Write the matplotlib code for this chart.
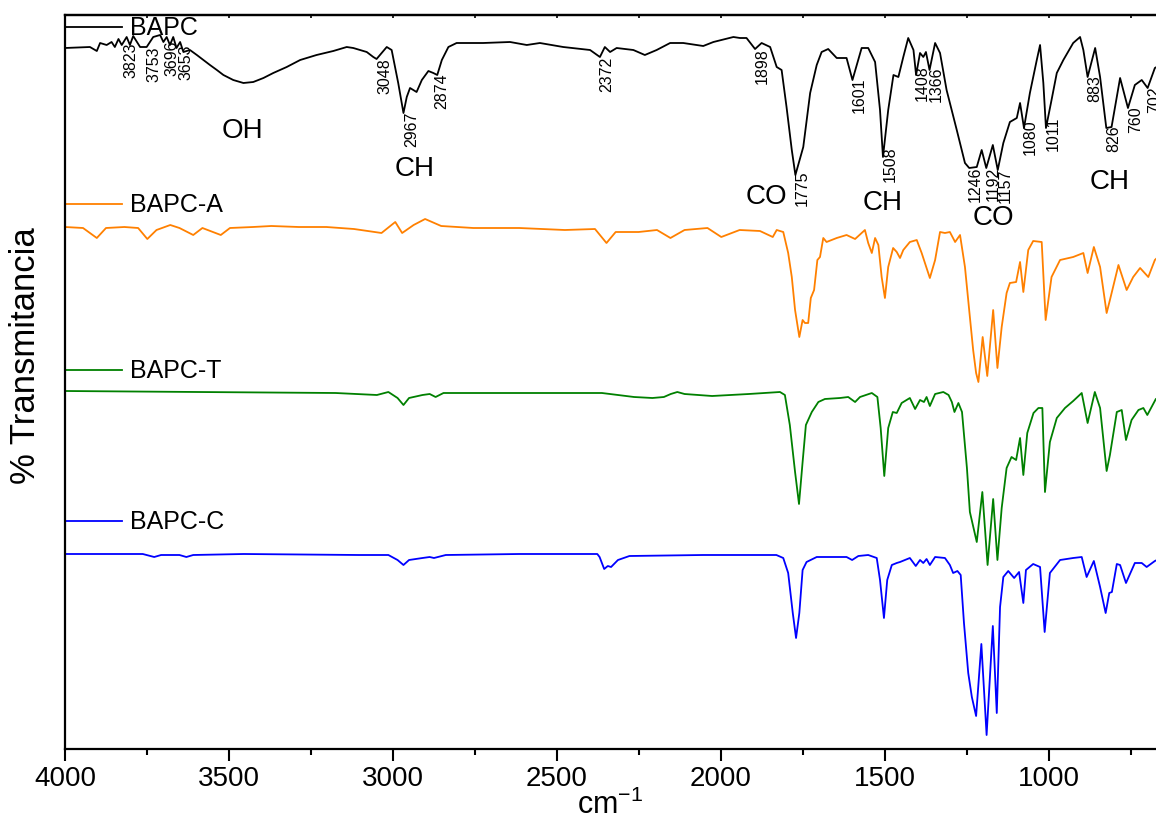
import numpy as np
import matplotlib.pyplot as plt
from matplotlib.ticker import MultipleLocator
from matplotlib.transforms import offset_copy

plt.rcParams['font.family'] = ['Liberation Sans', 'DejaVu Sans']
plt.rcParams['mathtext.default'] = 'regular'

## FTIR spectra, stacked (arbitrary transmittance units)
bapc_wn = [4000, 3924, 3903, 3893, 3873, 3858, 3848, 3837, 3827, 3812, 3802, 3792,
           3771, 3751, 3731, 3710, 3700, 3690, 3680, 3670, 3660, 3649, 3639, 3619,
           3598, 3578, 3558, 3537, 3517, 3487, 3456, 3426, 3395, 3365, 3324, 3283,
           3233, 3182, 3141, 3121, 3080, 3060, 3050, 3019, 3004, 2984, 2968, 2958,
           2948, 2928, 2912, 2892, 2877, 2865, 2851, 2831, 2806, 2725, 2643, 2592,
           2552, 2481, 2399, 2369, 2354, 2338, 2318, 2267, 2232, 2196, 2155, 2115,
           2054, 2023, 1962, 1942, 1922, 1896, 1876, 1850, 1830, 1815, 1800, 1784,
           1773, 1749, 1728, 1708, 1693, 1673, 1647, 1617, 1599, 1571, 1551, 1530,
           1515, 1506, 1490, 1474, 1459, 1444, 1429, 1413, 1405, 1393, 1383, 1375,
           1364, 1347, 1332, 1312, 1281, 1256, 1243, 1220, 1205, 1191, 1171, 1156,
           1139, 1119, 1098, 1088, 1076, 1058, 1037, 1027, 1017, 1009, 992, 976,
           956, 926, 905, 895, 882, 859, 844, 825, 809, 783, 759, 738, 717, 699,
           677, 661]
bapc_t = [700, 701, 697, 705, 703, 706, 701, 709, 703, 711, 703, 712,
          701, 701, 711, 713, 706, 711, 703, 711, 700, 706, 696, 698,
          693, 688, 683, 678, 673, 668, 665, 666, 670, 675, 681, 688,
          693, 697, 701, 700, 696, 691, 689, 701, 698, 665, 635, 651,
          660, 656, 668, 677, 675, 673, 688, 701, 705, 705, 706, 703,
          705, 701, 698, 691, 701, 696, 700, 698, 693, 698, 705, 705,
          702, 706, 711, 710, 710, 699, 705, 701, 681, 678, 641, 598,
          573, 601, 655, 683, 696, 699, 690, 690, 668, 700, 700, 686,
          638, 591, 638, 673, 671, 691, 710, 698, 673, 695, 691, 696,
          678, 705, 695, 658, 618, 585, 580, 581, 598, 580, 603, 578,
          605, 626, 630, 645, 620, 655, 688, 703, 665, 620, 648, 675,
          688, 705, 711, 698, 671, 700, 671, 620, 621, 670, 640, 663, 668, 660,
          680, 683]

bapc_a_wn = [4000, 3945, 3903, 3875, 3819, 3777, 3749, 3721, 3679, 3651, 3609, 3581,
             3525, 3497, 3427, 3371, 3287, 3203, 3119, 3035, 2993, 2972, 2937, 2902,
             2853, 2755, 2615, 2476, 2384, 2349, 2321, 2251, 2195, 2154, 2111, 2041,
             1999, 1943, 1881, 1842, 1830, 1810, 1795, 1784, 1774, 1761, 1751, 1744,
             1734, 1726, 1716, 1706, 1698, 1688, 1678, 1647, 1617, 1591, 1561, 1551,
             1540, 1530, 1520, 1510, 1500, 1490, 1475, 1464, 1454, 1444, 1424, 1403,
             1388, 1363, 1347, 1332, 1317, 1302, 1286, 1271, 1256, 1241, 1231, 1222,
             1215, 1202, 1188, 1170, 1157, 1144, 1129, 1119, 1100, 1088, 1078, 1063,
             1048, 1022, 1010, 992, 966, 926, 895, 882, 863, 844, 824, 814,
             788, 763, 743, 722, 697, 677, 661]
bapc_a_t = [521, 520, 510, 520, 521, 520, 509, 518, 523, 520, 513, 520,
            513, 520, 521, 522, 521, 521, 519, 515, 526, 515, 523, 529,
            522, 520, 520, 518, 519, 505, 516, 516, 518, 510, 518, 520,
            511, 518, 517, 511, 518, 516, 495, 471, 438, 411, 428, 425,
            425, 450, 458, 488, 491, 510, 506, 510, 513, 509, 518, 505,
            495, 510, 503, 471, 450, 481, 500, 496, 490, 498, 506, 508,
            495, 470, 488, 516, 515, 516, 506, 513, 481, 431, 398, 375,
            366, 411, 372, 438, 380, 421, 455, 465, 466, 486, 456, 498,
            507, 506, 428, 471, 488, 491, 495, 475, 501, 481, 435, 448,
            483, 458, 471, 480, 471, 488, 493]

bapc_t_wn = [4000, 3595, 3175, 3049, 3014, 2986, 2968, 2951, 2910, 2888, 2870, 2846,
             2755, 2405, 2363, 2265, 2209, 2174, 2153, 2133, 2111, 2027, 1915, 1820,
             1805, 1790, 1774, 1762, 1751, 1741, 1723, 1703, 1683, 1637, 1612, 1591,
             1576, 1540, 1523, 1513, 1502, 1490, 1476, 1464, 1449, 1424, 1408, 1393,
             1381, 1373, 1363, 1347, 1322, 1306, 1296, 1288, 1276, 1265, 1250, 1241,
             1220, 1203, 1187, 1170, 1157, 1144, 1129, 1114, 1100, 1088, 1078, 1066,
             1047, 1032, 1020, 1012, 997, 976, 951, 926, 900, 882, 860, 844,
             824, 814, 793, 778, 765, 748, 727, 712, 700, 674, 658]
bapc_t_t = [357, 356, 355, 353, 356, 350, 343, 350, 353, 354, 351, 355,
            355, 355, 355, 351, 350, 351, 354, 356, 354, 352, 354, 356,
            353, 323, 276, 244, 286, 323, 336, 346, 349, 350, 351, 346,
            351, 355, 351, 320, 272, 320, 336, 335, 345, 350, 339, 348,
            346, 351, 342, 354, 356, 353, 346, 336, 345, 336, 280, 236,
            206, 256, 183, 249, 188, 240, 280, 291, 288, 310, 273, 315,
            335, 340, 340, 256, 306, 330, 340, 347, 355, 325, 356, 340,
            277, 293, 336, 338, 308, 328, 338, 340, 333, 349, 352]

bapc_c_wn = [4000, 3763, 3728, 3707, 3651, 3630, 3609, 3455, 3105, 3035, 3014, 2986,
             2968, 2951, 2910, 2888, 2875, 2839, 2615, 2377, 2370, 2356, 2345, 2335,
             2314, 2279, 2055, 1915, 1831, 1810, 1795, 1781, 1771, 1761, 1751, 1739,
             1708, 1617, 1600, 1581, 1551, 1525, 1515, 1503, 1493, 1479, 1464, 1454,
             1424, 1406, 1393, 1383, 1373, 1363, 1347, 1317, 1302, 1292, 1279, 1269,
             1259, 1246, 1235, 1222, 1206, 1190, 1171, 1159, 1149, 1139, 1124, 1106,
             1091, 1078, 1070, 1048, 1027, 1013, 997, 966, 926, 900, 885, 863,
             844, 827, 816, 808, 793, 783, 765, 738, 717, 702, 677, 658]
bapc_c_t = [194, 194, 191, 193, 193, 191, 193, 194, 193, 193, 193, 188,
            183, 188, 190, 191, 190, 193, 194, 194, 191, 179, 182, 181,
            188, 192, 193, 193, 193, 190, 175, 135, 110, 135, 178, 186,
            191, 191, 188, 192, 193, 190, 168, 130, 168, 183, 185, 186,
            190, 182, 188, 185, 189, 183, 191, 190, 183, 175, 177, 173,
            125, 75, 51, 32, 104, 13, 122, 35, 141, 171, 177, 170,
            176, 145, 178, 184, 181, 116, 175, 188, 190, 191, 171, 187,
            161, 135, 155, 156, 184, 183, 165, 185, 185, 181, 187, 190]

samples = ['BAPC', 'BAPC-A', 'BAPC-T', 'BAPC-C']
colors = ['black', '#FF8000', '#008000', '#0000FF']

# band positions marked on the BAPC spectrum
peak_wn = [3823, 3753, 3696, 3653, 3048, 2967, 2874, 2372, 1898, 1775, 1601,
           1508, 1408, 1366, 1246, 1192, 1157, 1080, 1011, 883, 826, 760, 702]

# group assignments
groups = ['OH', 'CH', 'CO', 'CH', 'CO', 'CH']


fig = plt.figure(figsize=(11.56, 8.21), dpi=100)
ax = fig.add_axes([65 / 1156, 72 / 821, 1091 / 1156, 734 / 821])

spectra = [(bapc_wn, bapc_t), (bapc_a_wn, bapc_a_t),
           (bapc_t_wn, bapc_t_t), (bapc_c_wn, bapc_c_t)]
for (wn, t), c in zip(spectra, colors):
    ax.plot(wn, t, color=c, lw=1.3, solid_joinstyle='round')

ax.set_xlim(4000, 673.5)
ax.set_ylim(-1, 733)
ax.set_yticks([])
ax.xaxis.set_major_locator(MultipleLocator(500))
ax.xaxis.set_minor_locator(MultipleLocator(250))
ax.tick_params(axis='x', which='major', direction='out', length=8.5, width=1.5,
               labelsize=20, pad=4)
ax.tick_params(axis='x', which='minor', direction='out', length=4.5, width=1.5)
for s in ['left', 'bottom', 'top']:
    ax.spines[s].set_linewidth(1.6)
ax.spines['right'].set_visible(False)

top = ax.secondary_xaxis('top')
top.xaxis.set_major_locator(MultipleLocator(500))
top.xaxis.set_minor_locator(MultipleLocator(250))
top.tick_params(which='both', direction='in', length=2.5, width=1.2, labeltop=False)
top.spines['top'].set_linewidth(1.6)

ax.set_xlabel(r'cm$^{-1}$', fontsize=22, labelpad=-2)
ax.set_ylabel('% Transmitancia', fontsize=25)
ax.yaxis.set_label_coords(-0.021, 0.536)

# sample keys next to each trace
key_y = [0.9837, 0.7425, 0.5163, 0.3106]
txt_tr = offset_copy(ax.transAxes, fig=fig, x=0, y=-8, units='dots')
for name, c, yk in zip(samples, colors, key_y):
    ax.plot([0, 0.052], [yk, yk], transform=ax.transAxes, color=c, lw=1.3,
            clip_on=False)
    ax.text(0.0596, yk, name, transform=txt_tr, fontsize=18, va='baseline')

# peak wavenumbers, hung under each band of the BAPC trace
wn_r = np.array(bapc_wn)[::-1]
t_r = np.array(bapc_t)[::-1]
for w in peak_wn:
    ax.text(w, np.interp(w, wn_r, t_r), str(w), rotation=90, ha='left',
            va='top', fontsize=11.5)

group_xy = [(3460, 617), (2933, 579), (1860, 551), (1506, 545), (1170, 530), (814, 566)]
for g, (gx, gy) in zip(groups, group_xy):
    ax.text(gx, gy, g, fontsize=20, ha='center', va='center')

fig.savefig('out.png', dpi=100)
